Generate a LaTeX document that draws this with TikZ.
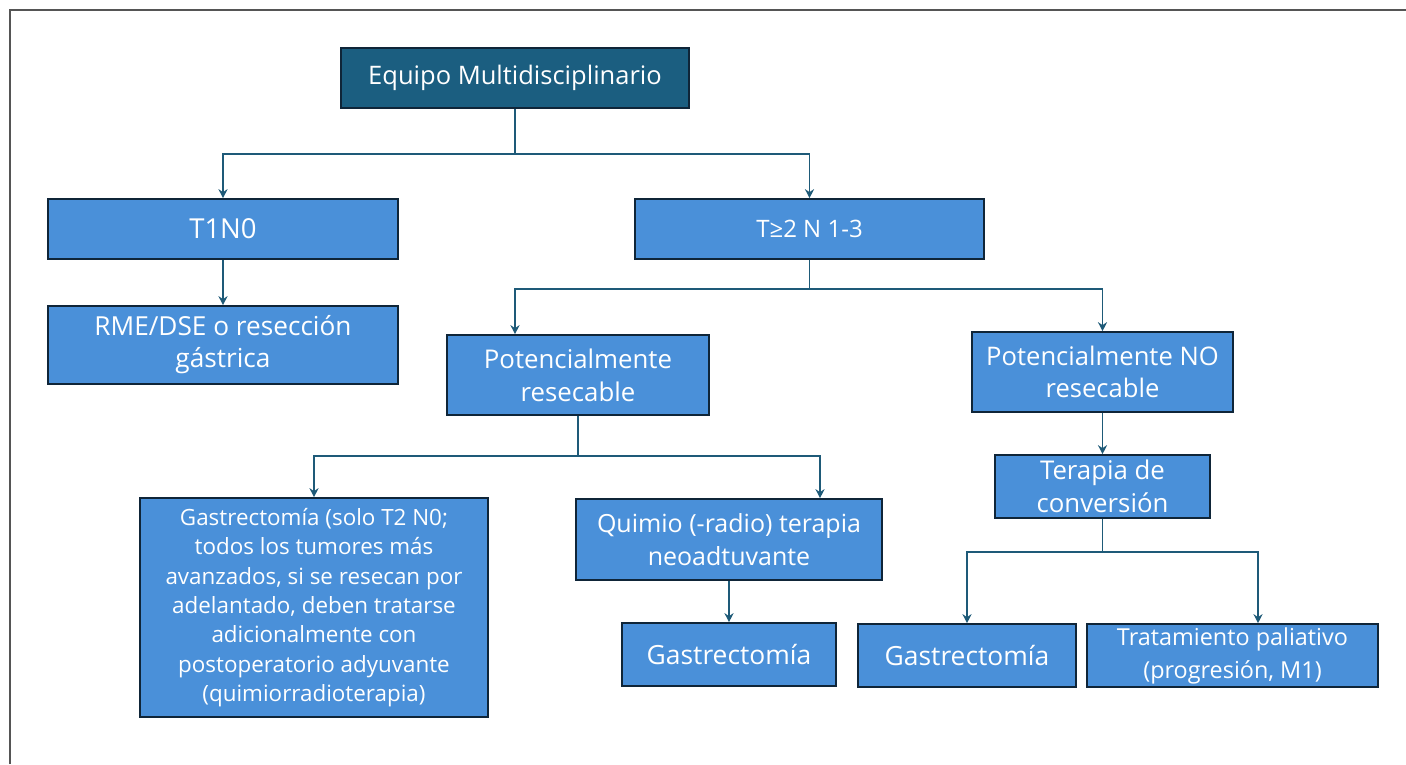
\documentclass[tikz,border=0pt]{standalone}
\usepackage{fontspec}
\setmainfont{Open Sans}
\usetikzlibrary{arrows.meta,calc}
\definecolor{boxblue}{HTML}{4A90D9}
\definecolor{topteal}{HTML}{1B5E80}
\definecolor{boxedge}{HTML}{0F2538}
\definecolor{connc}{HTML}{1E5A78}
\definecolor{framec}{HTML}{555555}
\newcommand{\fsz}[2]{\fontsize{#1}{#2}\selectfont}
\begin{document}
\begin{tikzpicture}[x=1pt,y=-1pt,
  box/.style={draw=boxedge, fill=boxblue, text=white, line width=1.6pt, align=center, inner sep=0pt,
    font=\fsz{25.5}{33}},
  conn/.style={draw=connc, line width=1.8pt, -{Stealth[length=9pt,width=9pt]}}]
\useasboundingbox (0,0) rectangle (1406,764);
\draw[framec, line width=1.6pt] (10,764) -- (10,10) -- (1406,10);
% nodes
\node[box, fill=topteal, minimum width=348pt, minimum height=60pt] (top) at (515,78) {Equipo Multidisciplinario};
\node[box, font=\fsz{27.5}{33}, minimum width=350pt, minimum height=60pt] (t1) at (223,229) {T1N0};
\node[box, font=\fsz{24}{33}, minimum width=349pt, minimum height=60pt] (t2) at (809.5,229) {T≥2 N 1-3};
\node[box, font=\fsz{26.2}{32}, minimum width=350pt, minimum height=78pt] (rme) at (223,345) {RME/DSE o resección\\gástrica};
\node[box, font=\fsz{25.8}{33}, minimum width=262pt, minimum height=80pt] (pr) at (578,375) {Potencialmente\\resecable};
\node[box, font=\fsz{25.6}{32}, minimum width=261pt, minimum height=80pt] (pnr) at (1102.5,372) {Potencialmente NO\\resecable};
\node[box, font=\fsz{22.4}{29.3}, minimum width=348pt, minimum height=219pt] (gbig) at (314,607.5) {Gastrectomía (solo T2 N0;\\todos los tumores más\\avanzados, si se resecan por\\adelantado, deben tratarse\\adicionalmente con\\postoperatorio adyuvante\\(quimiorradioterapia)};
\node[box, font=\fsz{25}{33}, minimum width=306pt, minimum height=81pt] (qr) at (729,539.5) {Quimio (-radio) terapia\\neoadtuvante};
\node[box, font=\fsz{26.4}{33}, minimum width=214pt, minimum height=63pt] (gm) at (729,654.5) {Gastrectomía};
\node[box, font=\fsz{25.8}{33}, minimum width=215pt, minimum height=63pt] (tc) at (1102.5,486.5) {Terapia de\\conversión};
\node[box, font=\fsz{26.4}{33}, minimum width=218pt, minimum height=63pt] (gr) at (967,655.5) {Gastrectomía};
\node[box, font=\fsz{23.4}{33}, minimum width=291pt, minimum height=63pt] (tp) at (1232.5,655.5) {Tratamiento paliativo\\(progresión, M1)};
% connectors
\draw[conn] (top.south) -- ++(0,45) -| (t1.north);
\draw[conn] (top.south) -- ++(0,45) -| (t2.north);
\draw[conn] (t1.south) -- (rme.north);
\draw[conn] (t2.south) -- ++(0,29) -| ([xshift=-63pt]pr.north);
\draw[conn] (t2.south) -- ++(0,29) -| (pnr.north);
\draw[conn] (pr.south) -- ++(0,40) -| (gbig.north);
\draw[conn] (pr.south) -- ++(0,40) -| ([xshift=91pt]qr.north);
\draw[conn] (qr.south) -- (gm.north);
\draw[conn] (pnr.south) -- (tc.north);
\draw[conn] (tc.south) -- ++(0,33) -| (gr.north);
\draw[conn] (tc.south) -- ++(0,33) -| ([xshift=25.5pt]tp.north);
\end{tikzpicture}
\end{document}
